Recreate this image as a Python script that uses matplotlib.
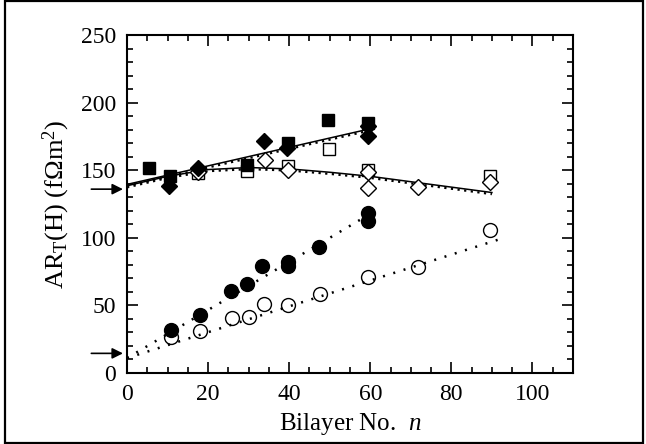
import numpy as np
import matplotlib.pyplot as plt
from matplotlib.patches import Rectangle

plt.rcParams['font.family'] = ['Liberation Serif', 'DejaVu Serif']
plt.rcParams['mathtext.fontset'] = 'custom'
plt.rcParams['mathtext.rm'] = 'Liberation Serif'
plt.rcParams['mathtext.it'] = 'Liberation Serif:italic'

# filled squares
sq_f_n = [5.5, 10.6, 29.6, 39.7, 49.5, 59.4]
sq_f_r = [152, 146, 154, 170.5, 187, 185]
# filled diamonds
dm_f_n = [10.4, 17.4, 33.7, 39.4, 59.4, 59.4]
dm_f_r = [138, 152, 171.5, 166.5, 183, 175]
# open squares
sq_o_n = [17.5, 29.6, 39.7, 49.7, 59.4, 89.6]
sq_o_r = [148, 149.5, 153, 165.5, 150.5, 145.5]
# open diamonds
dm_o_n = [17.5, 34.0, 39.7, 59.4, 59.4, 71.7, 89.6]
dm_o_r = [149, 157.5, 150, 148.5, 136.5, 137.5, 141]
# filled circles
ci_f_n = [10.8, 17.9, 25.7, 29.6, 33.4, 39.8, 39.8, 47.4, 59.4, 59.4]
ci_f_r = [32, 43, 60.5, 66, 79, 79.5, 82, 93.5, 118, 112.5]
# open circles
ci_o_n = [10.8, 18.0, 25.8, 30.0, 33.7, 39.8, 47.7, 59.4, 71.7, 89.6]
ci_o_r = [26.5, 31, 40.5, 41.5, 51, 50.3, 58.5, 71, 78.5, 106]

# fit curves
fit_f_n = [0, 59]
fit_f_r = [139.5, 180]
fit_o_n = [0, 10, 20, 30, 40, 50, 60, 70, 80, 90]
fit_o_r = [138.5, 145.5, 150.5, 152, 151, 148.5, 145.5, 141.5, 137.5, 133.5]
lin_f_n = [0, 59]
lin_f_r = [11, 116]
lin_o_n = [0, 93]
lin_o_r = [11, 100]

arrow_levels = [136, 14.5]

fig = plt.figure(figsize=(6.46, 4.44), dpi=100)
ax = fig.add_axes([0.1966, 0.16, 0.6904, 0.761])
fig.patches.append(Rectangle((0.008, 0.003), 0.988, 0.994, transform=fig.transFigure,
                             fill=False, edgecolor='black', linewidth=1.6))

# fits: solid line with a dotted twin just below it
ax.plot(fit_f_n, fit_f_r, '-', color='black', lw=1.1)
ax.plot(fit_f_n, np.array(fit_f_r) - 1.2, color='black', lw=1.6, linestyle=(0, (1, 2)))
ax.plot(fit_o_n, fit_o_r, '-', color='black', lw=1.1)
ax.plot(fit_o_n, np.array(fit_o_r) - 1.2, color='black', lw=1.6, linestyle=(0, (1, 2)))
ax.plot(lin_f_n, lin_f_r, color='black', lw=1.8, linestyle=(0, (0.8, 3.5)))
ax.plot(lin_o_n, lin_o_r, color='black', lw=1.8, linestyle=(0, (0.8, 3.5)))

ax.plot(sq_o_n, sq_o_r, 's', ms=9, mfc='white', mec='black', mew=1.0, ls='none')
ax.plot(dm_o_n, dm_o_r, 'D', ms=8.5, mfc='white', mec='black', mew=1.0, ls='none')
ax.plot(sq_f_n, sq_f_r, 's', ms=9, color='black', ls='none')
ax.plot(dm_f_n, dm_f_r, 'D', ms=8.5, color='black', ls='none')
ax.plot(ci_o_n, ci_o_r, 'o', ms=10, mfc='none', mec='black', mew=1.0, ls='none')
ax.plot(ci_f_n, ci_f_r, 'o', ms=10, color='black', ls='none')

for lvl in arrow_levels:
    ax.annotate('', xy=(-1.0, lvl), xytext=(-8.8, lvl), annotation_clip=False,
                arrowprops=dict(arrowstyle='-|>', color='black', lw=1.2,
                                mutation_scale=16, shrinkA=0, shrinkB=0))

ax.set_xlim(0, 110)
ax.set_ylim(0, 250)
ax.set_xticks([0, 20, 40, 60, 80, 100])
ax.set_xticks(np.arange(0, 111, 5), minor=True)
ax.set_yticks([0, 50, 100, 150, 200, 250])
ax.set_yticks(np.arange(0, 251, 10), minor=True)
ax.tick_params(which='both', direction='in', top=True, right=True, width=1.2,
               labelsize=17, pad=8)
ax.tick_params(which='major', length=8)
ax.tick_params(which='minor', length=4.5)
for s in ax.spines.values():
    s.set_linewidth(1.5)

ax.set_xlabel('Bilayer No.  $n$', fontsize=18, labelpad=4)
ax.set_ylabel(r'AR$_\mathregular{T}$(H) (f$\Omega$m$^\mathregular{2}$)', fontsize=19, labelpad=6)

fig.savefig('out.png', dpi=100)
